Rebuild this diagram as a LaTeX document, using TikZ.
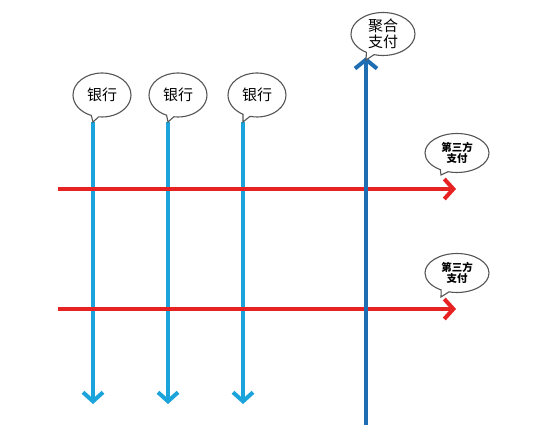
\documentclass[tikz,border=0pt]{standalone}
\usepackage{fontspec}
\setmainfont{Noto Sans CJK SC}
\usetikzlibrary{arrows.meta,shapes.callouts}
\definecolor{lblue}{HTML}{1BA3DC}
\definecolor{dblue}{HTML}{1F6DB2}
\definecolor{rred}{HTML}{E62222}
\definecolor{outl}{HTML}{555555}
\begin{document}
\begin{tikzpicture}[x=1pt,y=-1pt,
  bubble/.style={ellipse callout,draw=outl,line width=1.1pt,fill=white,inner sep=0pt,align=center},
  bank/.style={bubble,minimum width=58pt,minimum height=44pt,font=\fontsize{15}{16}\selectfont},
  third/.style={bubble,minimum width=64pt,minimum height=39pt,font=\fontsize{10.5}{11.5}\selectfont\bfseries},
  lb/.style={lblue,line width=4pt,-{Straight Barb[length=9pt,width=20pt,line width=4pt]}},
  rd/.style={rred,line width=4pt,-{Straight Barb[length=9pt,width=20pt,line width=4pt]}},
  db/.style={dblue,line width=4pt,-{Straight Barb[length=9pt,width=22pt,line width=4pt]}}]
\useasboundingbox (0,0) rectangle (550,444);
\fill[white] (0,0) rectangle (550,444);
% coordinates
\coordinate (t1) at (93,122);
\coordinate (t2) at (168,122);
\coordinate (t3) at (243,122);
\coordinate (b1) at (93,404);
\coordinate (b2) at (168,404);
\coordinate (b3) at (243,404);
\coordinate (pt) at (366,60);
\coordinate (pb) at (366,425);
\coordinate (r1s) at (58,189);
\coordinate (r1e) at (456,189);
\coordinate (r2s) at (58,309);
\coordinate (r2e) at (456,309);
\coordinate (q1) at (441,175);
\coordinate (q2) at (441,297);
% light blue arrows
\draw[lb] (t1) -- (b1);
\draw[lb] (t2) -- (b2);
\draw[lb] (t3) -- (b3);
% red arrows
\draw[rd] (r1s) -- (r1e);
\draw[rd] (r2s) -- (r2e);
% dark blue arrow
\draw[db] (pb) -- ([yshift=3pt]pt);
% bubbles
\node[bank,callout absolute pointer=(t1)] (n1) at (102,95) {银行};
\node[bank,callout absolute pointer=(t2)] (n2) at (178,95) {银行};
\node[bank,callout absolute pointer=(t3)] (n3) at (257,95) {银行};
\node[bubble,minimum width=64pt,minimum height=43pt,font=\fontsize{15}{16.5}\selectfont,callout absolute pointer=(pt)] (ag) at (383,34) {聚合\\支付};
\node[third,callout absolute pointer=(q1)] (th1) at (457,153) {第三方\\支付};
\node[third,callout absolute pointer=(q2)] (th2) at (457,273) {第三方\\支付};
\end{tikzpicture}
\end{document}
